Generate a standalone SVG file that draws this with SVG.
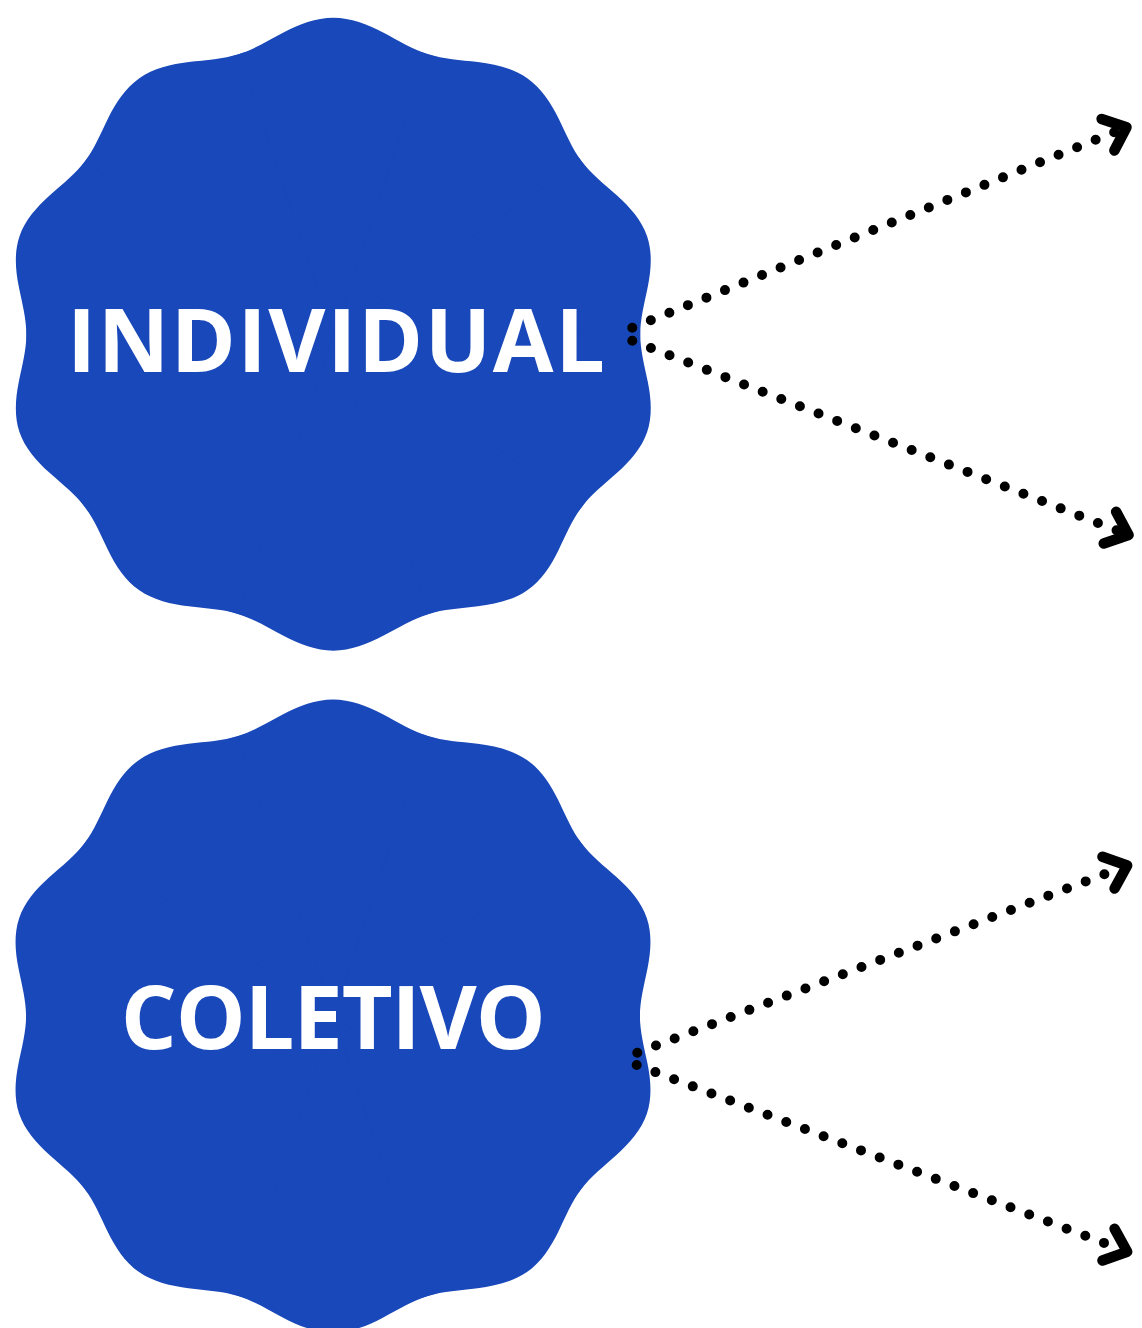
<svg xmlns="http://www.w3.org/2000/svg" xmlns:xlink="http://www.w3.org/1999/xlink" width="1142" height="1328" viewBox="0 0 1142 1328">
  <style>
    .badge { fill: #1848B9; }
    .label { font-family: "Open Sans", "Liberation Sans", sans-serif; font-weight: 700; font-size: 88px; fill: #FFFFFF; text-anchor: middle; }
    .dots { fill: none; stroke: #000000; stroke-width: 10; stroke-linecap: round; stroke-dasharray: 0 20; }
    .chev { fill: none; stroke: #000000; stroke-width: 10.5; stroke-linecap: round; stroke-linejoin: round; }
  </style>
  <defs>
    <path id="lobe" d="M0 0 L0.884483 -0.287386 C0.89953 -0.241075 0.927115 -0.197997 0.953119 -0.150959 C0.979123 -0.103921 1 -0.05236 1 0 C1 0.05236 0.979123 0.103921 0.953119 0.150959 C0.927115 0.197997 0.89953 0.241075 0.884483 0.287386 Z"/>
    <g id="badge-shape">
      <circle r="0.93"/>
      <use href="#lobe" xlink:href="#lobe" transform="rotate(18)"/>
      <use href="#lobe" xlink:href="#lobe" transform="rotate(54)"/>
      <use href="#lobe" xlink:href="#lobe" transform="rotate(90)"/>
      <use href="#lobe" xlink:href="#lobe" transform="rotate(126)"/>
      <use href="#lobe" xlink:href="#lobe" transform="rotate(162)"/>
      <use href="#lobe" xlink:href="#lobe" transform="rotate(198)"/>
      <use href="#lobe" xlink:href="#lobe" transform="rotate(234)"/>
      <use href="#lobe" xlink:href="#lobe" transform="rotate(270)"/>
      <use href="#lobe" xlink:href="#lobe" transform="rotate(306)"/>
      <use href="#lobe" xlink:href="#lobe" transform="rotate(342)"/>
    </g>
    <marker id="chev-near" markerUnits="userSpaceOnUse" orient="auto" markerWidth="50" markerHeight="50" refX="19.5" refY="25" overflow="visible">
      <path class="chev" d="M11 8 L31 25 L11 42"/>
    </marker>
    <marker id="chev-far" markerUnits="userSpaceOnUse" orient="auto" markerWidth="50" markerHeight="50" refX="9.25" refY="25" overflow="visible">
      <path class="chev" d="M11 8 L31 25 L11 42"/>
    </marker>
  </defs>

  <g id="node-individual">
    <use class="badge" href="#badge-shape" xlink:href="#badge-shape" transform="translate(333.3 334.2) scale(330 316.5)"/>
    <text class="label" x="335.9" y="372" textLength="538" lengthAdjust="spacing">INDIVIDUAL</text>
  </g>

  <g id="node-coletivo">
    <use class="badge" href="#badge-shape" xlink:href="#badge-shape" transform="translate(333 1016) scale(330 316.5)"/>
    <text class="label" x="333.3" y="1049" textLength="425" lengthAdjust="spacing">COLETIVO</text>
  </g>

  <g id="connectors">
    <path class="dots" d="M632.3 327.7 L1115.85 131.55" marker-end="url(#chev-near)"/>
    <path class="dots" d="M632.3 340.7 L1117.86 530.73" marker-end="url(#chev-near)"/>
    <path class="dots" d="M637.3 1052.7 L1106.87 873.29" marker-end="url(#chev-far)"/>
    <path class="dots" d="M636.7 1065 L1106.87 1244.01" marker-end="url(#chev-far)"/>
  </g>
</svg>
